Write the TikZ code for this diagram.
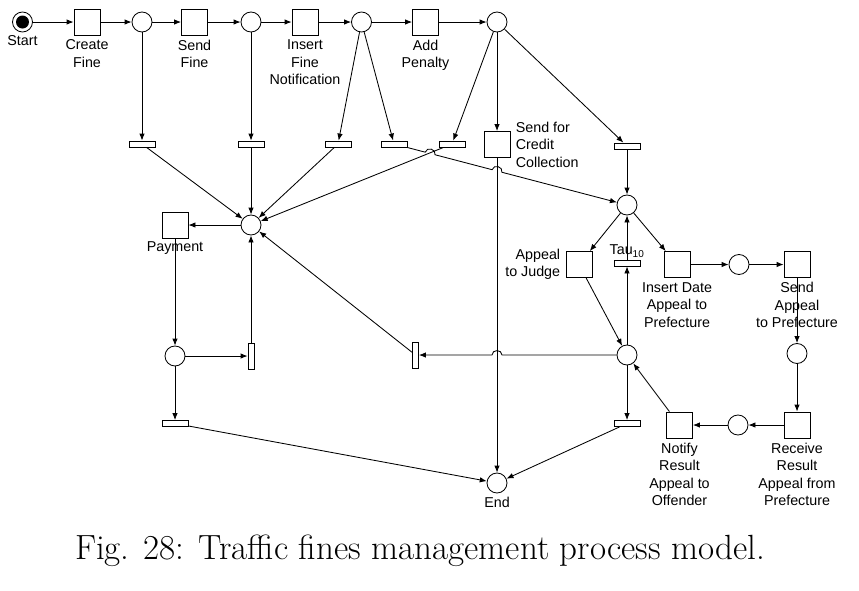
\documentclass[tikz,border=0pt]{standalone}
\usepackage{fontspec}
\newfontfamily\arialfont{Liberation Sans}
\usetikzlibrary{positioning,calc,arrows.meta}
\begin{document}
\begin{tikzpicture}[x=1pt,y=-1pt,line width=0.85pt,
        place/.style={circle,draw,minimum size=20pt,inner sep=0pt},
        trans/.style={rectangle,draw,minimum size=26pt,inner sep=0pt},
        silent/.style={rectangle,draw,minimum width=26pt,minimum height=6pt,inner sep=0pt},
        vsilent/.style={rectangle,draw,minimum width=6pt,minimum height=26pt,inner sep=0pt},
        token/.style={place,path picture={\fill (path picture bounding box.center) circle (6.5pt);}},
        lab/.style={font={\arialfont\fontsize{14.3}{17.5}\selectfont},align=center,inner sep=0pt},
        flow/.style={-{Latex[length=7pt,width=5.5pt]}},
        hop/.style={bend left=90,looseness=1.5}]
    \useasboundingbox (0,0) rectangle (859,590);
    \node [token] (start) at (22.5,22) {};
    \node [trans] (cf) at (87,22) {};
    \node [place] (p1) at (142,22) {};
    \node [trans] (sf) at (194.5,22) {};
    \node [place] (p2) at (251,22) {};
    \node [trans] (ifn) at (305,22) {};
    \node [place] (p3) at (361.5,22) {};
    \node [trans] (ap) at (425.5,22) {};
    \node [place] (p4) at (497,22) {};
    \node [silent] (ta) at (142,144) {};
    \node [silent] (tb) at (251,144) {};
    \node [silent] (tc) at (338,144) {};
    \node [silent] (td) at (394,144) {};
    \node [silent] (te) at (452,144) {};
    \node [trans] (scc) at (497,144.5) {};
    \node [silent] (tf) at (627,146) {};
    \node [place] (pc) at (251,225) {};
    \node [trans] (pay) at (175,225) {};
    \node [place] (pp) at (175,356) {};
    \node [vsilent] (tv1) at (251,356) {};
    \node [silent] (tg) at (175,423.5) {};
    \node [vsilent] (tv2) at (415.5,355) {};
    \node [place] (end) at (497,483) {};
    \node [place] (pr) at (627,205) {};
    \node [trans] (aj) at (579,264.5) {};
    \node [silent] (tau) at (627,263) {};
    \node [trans] (ida) at (677,264.5) {};
    \node [place] (pi) at (739,264.5) {};
    \node [trans] (sa) at (797,264.5) {};
    \node [place] (ps) at (797,353.5) {};
    \node [trans] (rr) at (797,425) {};
    \node [place] (pn) at (738,425) {};
    \node [trans] (nr) at (679.5,425) {};
    \node [place] (pa) at (627,355) {};
    \node [silent] (th) at (627,423.5) {};

    \node [lab,below=3pt of start] {Start};
    \node [lab,below=4pt of cf] {Create\\Fine};
    \node [lab,below=4pt of sf] {Send\\Fine};
    \node [lab,below=4pt of ifn] {Insert\\Fine\\Notification};
    \node [lab,below=4pt of ap] {Add\\Penalty};
    \node [lab,align=left,right=5pt of scc] {Send for\\Credit\\Collection};
    \node [lab,below=3pt of pay] {Payment};
    \node [lab,below=3pt of end] {End};
    \node [lab,align=right,left=5pt of aj] {Appeal\\to Judge};
    \node [lab,above=2pt of tau] {Tau\textsubscript{10}};
    \node [lab,below=4pt of ida] {Insert Date\\Appeal to\\Prefecture};
    \node [lab,below=4pt of sa] {Send\\Appeal\\to Prefecture};
    \node [lab,below=4pt of rr] {Receive\\Result\\Appeal from\\Prefecture};
    \node [lab,below=4pt of nr] {Notify\\Result\\Appeal to\\Offender};
    \node [font=\fontsize{35}{40}\selectfont,inner sep=0pt] (caption) at (420,551)
        {Fig. 28: Traffic fines management process model.};

    \foreach \a/\b in {start/cf,cf/p1,p1/sf,sf/p2,p2/ifn,ifn/p3,p3/ap,ap/p4,
            p1/ta,p2/tb,p3/tc,p3/td,p4/te,p4/scc,p4/tf,
            ta/pc,tb/pc,tc/pc,te/pc,tf/pr,
            pc/pay,pay/pp,pp/tv1,tv1/pc,pp/tg,tg/end,scc/end,
            pr/aj,pr/ida,aj/pa,pa/tau,tau/pr,
            ida/pi,pi/sa,sa/ps,ps/rr,rr/pn,pn/nr,nr/pa,
            tv2/pc,pa/th,th/end}
        \draw [flow] (\a) -- (\b);
    \draw [flow] (td) -- ($(td)!0.134!(pr)$) to [hop] ($(td)!0.176!(pr)$)
        -- ($(td)!0.421!(pr)$) to [hop] ($(td)!0.463!(pr)$) -- (pr);
    \draw [flow] (pa) -- ([xshift=5pt]pa -| scc) to [hop,bend left=-90] ([xshift=-5pt]pa -| scc) -- (tv2);
\end{tikzpicture}
\end{document}
